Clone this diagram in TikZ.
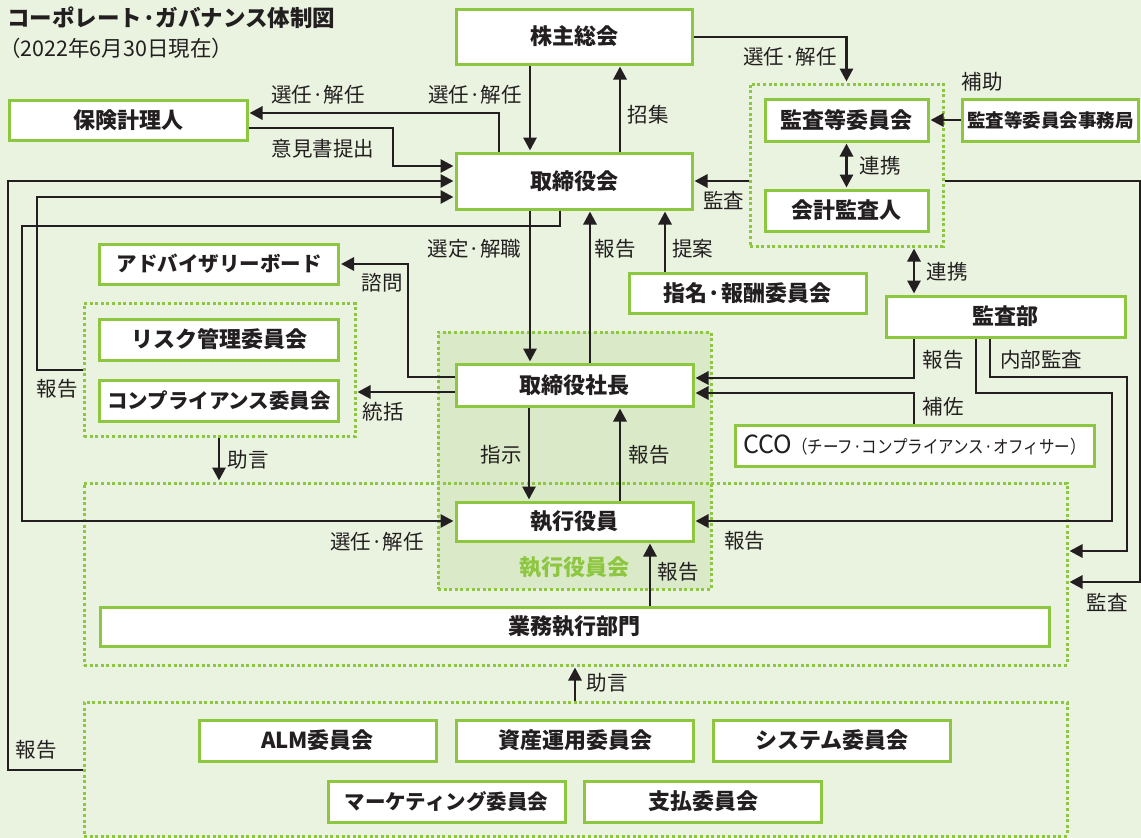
\documentclass[tikz,border=0pt]{standalone}
\usepackage{fontspec}
\setmainfont{Noto Sans CJK JP}
\usetikzlibrary{arrows.meta}
\definecolor{bgc}{HTML}{EAF3E0}
\definecolor{G}{HTML}{8DC63F}
\definecolor{EX}{HTML}{DAE9C7}
\definecolor{D}{HTML}{231F20}
\newcommand{\bxfont}{\fontsize{22}{24}\selectfont\bfseries}
\newcommand{\bxsmall}{\fontsize{20.5}{22}\selectfont\bfseries}
\newcommand{\lbfont}{\fontsize{20.5}{22}\selectfont}
\begin{document}
\begin{tikzpicture}[x=1pt,y=-1pt,
 box/.style={draw=G, line width=3pt, fill=white, inner sep=0pt, font=\bxfont, text=D},
 grp/.style={draw=G, line width=3pt, dash pattern=on 3pt off 2.6pt, inner sep=0pt},
 arr/.style={draw=D, line width=2.9pt, shorten >=1pt, -{Triangle[length=13pt,width=13pt]}},
 darr/.style={draw=D, line width=2.9pt, shorten >=1pt, shorten <=1pt, {Triangle[length=13pt,width=13pt]}-{Triangle[length=13pt,width=13pt]}},
 lab/.style={font=\lbfont, text=D, inner sep=0pt}]
\fill[bgc] (0,0) rectangle (1141,838);
\useasboundingbox (0,0) rectangle (1141,838);
% helper coordinates
\foreach \v in {8,22,37,219,393,408,499,529,530,560,575,590,620,650,665,914,976,990,1112,1127,1140}{\coordinate (a\v) at (\v,0);}
\foreach \v in {37,113,128,166,181,197,226,264,370,377,378,392,393,521,551,582,770}{\coordinate (h\v) at (0,\v);}
% title
\node[anchor=west, inner sep=0pt, font=\fontsize{22.5}{24}\selectfont\bfseries, text=D] (title) at (7,18) {コーポレート·ガバナンス体制図};
\node[anchor=west, inner sep=0pt, font=\fontsize{21.5}{23}\selectfont, text=D] (subtitle) at (-1,48) {（2022年6月30日現在）};
% groups
\fill[EX] (438,332) rectangle (711,589);
\node[grp, minimum width=273, minimum height=257] (egroup) at (574.5,460.5) {};
\node[grp, minimum width=983, minimum height=182] (ggroup) at (575.5,574) {};
\node[grp, minimum width=983, minimum height=134] (bgroup) at (575.5,769) {};
\node[grp, minimum width=271, minimum height=133] (rgroup) at (219.5,370) {};
\node[grp, minimum width=193, minimum height=162] (kgroup) at (846.5,165) {};
% boxes
\node[box, minimum width=236, minimum height=55] (kabu) at (574,36.5) {株主総会};
\node[box, minimum width=238, minimum height=40] (hoken) at (128,120) {保険計理人};
\node[box, minimum width=236, minimum height=56] (tori) at (574,181) {取締役会};
\node[box, minimum width=163, minimum height=42] (iinkai) at (846.5,120) {監査等委員会};
\node[box, minimum width=163, minimum height=41] (kaikei) at (846.5,210.5) {会計監査人};
\node[box, minimum width=176, minimum height=42, font=\fontsize{18.5}{20}\selectfont\bfseries] (jimu) at (1050.5,120) {監査等委員会事務局};
\node[box, minimum width=239, minimum height=40, font=\bxsmall] (adv) at (219,264) {アドバイザリーボード};
\node[box, minimum width=237, minimum height=40] (shimei) at (747.5,293.5) {指名·報酬委員会};
\node[box, minimum width=239, minimum height=41] (kansabu) at (1005.5,316.5) {監査部};
\node[box, minimum width=239, minimum height=41] (risk) at (219,339.5) {リスク管理委員会};
\node[box, minimum width=239, minimum height=41, font=\bxsmall] (comp) at (219,400.5) {コンプライアンス委員会};
\node[box, minimum width=237, minimum height=42] (shacho) at (574.5,385) {取締役社長};
\node[box, minimum width=359, minimum height=41, font=\fontsize{18}{20}\selectfont\mdseries] (cco) at (914.5,445.5) {{\fontsize{25}{26}\selectfont CCO}\scalebox{0.86}[1]{（チーフ·コンプライアンス·オフィサー）}};
\node[box, minimum width=237, minimum height=39] (yakuin) at (574.5,521.5) {執行役員};
\node[inner sep=0pt, font=\bxfont, text=G] (elabel) at (574.5,567) {執行役員会};
\node[box, minimum width=949, minimum height=39] (gyomubu) at (574.5,626.5) {業務執行部門};
\node[box, minimum width=237, minimum height=41] (alm) at (317.5,740.5) {ALM委員会};
\node[box, minimum width=237, minimum height=41] (shisan) at (575,740.5) {資産運用委員会};
\node[box, minimum width=237, minimum height=41] (system) at (832,740.5) {システム委員会};
\node[box, minimum width=237, minimum height=41, font=\bxsmall] (marketing) at (446.5,801.5) {マーケティング委員会};
\node[box, minimum width=237, minimum height=41] (shiharai) at (703,801.5) {支払委員会};
% connectors
\draw[arr] (kabu.south -| a530) -- (tori.north -| a530);
\draw[arr] (tori.north -| a620) -- (kabu.south -| a620);
\draw[arr] (kabu.east |- h37) -| (kgroup.north);
\draw[arr] (tori.north -| a499) |- (hoken.east |- h113);
\draw[arr] (hoken.east |- h128) -| (a393 |- h166) -- (tori.west |- h166);
\draw[arr] (bgroup.west |- h770) -| (a8 |- h181) -- (tori.west |- h181);
\draw[arr] (rgroup.west |- h370) -| (a37 |- h197) -- (tori.west |- h197);
\draw[arr] (tori.south -| a560) |- (a22 |- h226) -- (a22 |- h521) -- (yakuin.west |- h521);
\draw[arr] (tori.south -| a530) -- (shacho.north -| a530);
\draw[arr] (shacho.north -| a590) -- (tori.south -| a590);
\draw[arr] (shimei.north -| a665) -- (tori.south -| a665);
\draw[arr] (kgroup.west |- h181) -- (tori.east |- h181);
\draw[arr] (jimu.west) -- (iinkai.east);
\draw[darr] (iinkai.south) -- (kaikei.north);
\draw[darr] (kgroup.south -| a914) -- (kansabu.north -| a914);
\draw[arr] (kgroup.east |- h181) -| (a1140 |- h582) -- (ggroup.east |- h582);
\draw[arr] (kansabu.south -| a914) |- (shacho.east |- h378);
\draw[arr] (cco.north -| a914) |- (shacho.east |- h393);
\draw[arr] (kansabu.south -| a976) |- (a1112 |- h393) -- (a1112 |- h521) -- (yakuin.east |- h521);
\draw[arr] (kansabu.south -| a990) |- (a1127 |- h377) -- (a1127 |- h551) -- (ggroup.east |- h551);
\draw[arr] (shacho.south -| a529) -- (yakuin.north -| a529);
\draw[arr] (yakuin.north -| a620) -- (shacho.south -| a620);
\draw[arr] (gyomubu.north -| a650) -- (yakuin.south -| a650);
\draw[arr] (shacho.west |- h377) -| (a408 |- h264) -- (adv.east);
\draw[arr] (shacho.west |- h392) -- (rgroup.east |- h392);
\draw[arr] (rgroup.south -| a219) -- (ggroup.north -| a219);
\draw[arr] (bgroup.north -| a575) -- (ggroup.south -| a575);
% labels
\node[lab] (l1) at (475,95) {選任·解任};
\node[lab] (l2) at (318,95) {選任·解任};
\node[lab] (l3) at (323,149) {意見書提出};
\node[lab] (l4) at (648,115) {招集};
\node[lab] (l5) at (790,57) {選任·解任};
\node[lab] (l6) at (982,82) {補助};
\node[lab] (l7) at (723.5,200) {監査};
\node[lab] (l8) at (880,166) {連携};
\node[lab] (l9) at (947,272) {連携};
\node[lab] (l10) at (474.5,249) {選定·解職};
\node[lab] (l11) at (615,249) {報告};
\node[lab] (l12) at (692.5,249) {提案};
\node[lab] (l13) at (382,283) {諮問};
\node[lab] (l14) at (383,412) {統括};
\node[lab] (l15) at (57,389) {報告};
\node[lab] (l16) at (248,460) {助言};
\node[lab] (l17) at (377,542) {選任·解任};
\node[lab] (l18) at (501,455) {指示};
\node[lab] (l19) at (649,455) {報告};
\node[lab] (l20) at (744.5,541) {報告};
\node[lab] (l21) at (678,572) {報告};
\node[lab] (l22) at (943,360) {報告};
\node[lab] (l23) at (943,407) {補佐};
\node[lab] (l24) at (1041,360) {内部監査};
\node[lab] (l25) at (1107,602) {監査};
\node[lab] (l26) at (607,683) {助言};
\node[lab] (l27) at (36.5,750) {報告};
\end{tikzpicture}
\end{document}
